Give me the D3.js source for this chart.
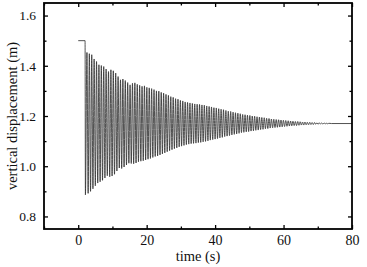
<!DOCTYPE html>
<html>
<head>
<meta charset="utf-8">
<script src="https://cdn.jsdelivr.net/npm/d3@7"></script>
<style>
  body { margin: 0; background: #fff; }
  svg { display: block; }
  text { font-family: "Liberation Serif", "Times New Roman", serif; fill: #111; }
</style>
</head>
<body>
<svg id="chart" width="367" height="267"></svg>
<script>
// values
var xTicks = [0, 20, 40, 60, 80],
    yTicks = [0.8, 1.0, 1.2, 1.4, 1.6];

// initial hold before release
var holdT = [0, 2.0],
    holdY = [1.5, 1.5];

// troughs and peaks of each oscillation cycle
var troughT = [2.1, 2.9, 3.6, 4.3, 5.0, 5.7, 6.4, 7.1, 7.8, 8.5, 9.2, 9.9, 10.6, 11.3, 12.0, 12.7, 13.4, 14.1, 14.8, 15.5,
  16.2, 16.9, 17.6, 18.3, 19.0, 19.7, 20.4, 21.1, 21.8, 22.5, 23.2, 23.9, 24.6, 25.3, 26.0, 26.7, 27.4, 28.1, 28.8, 29.5,
  30.2, 30.9, 31.6, 32.3, 33.0, 33.7, 34.4, 35.1, 35.8, 36.5, 37.2, 37.9, 38.6, 39.3, 40.0, 40.7, 41.4, 42.1, 42.8, 43.5,
  44.2, 44.9, 45.6, 46.3, 47.0, 47.7, 48.4, 49.1, 49.8, 50.5, 51.2, 51.9, 52.6, 53.3, 54.0, 54.7, 55.4, 56.1, 56.8, 57.5,
  58.2, 58.9, 59.6, 60.3, 61.0, 61.7, 62.4, 63.1, 63.8, 64.5, 65.2, 65.9, 66.6, 67.3, 68.0, 68.7, 69.4, 70.1, 70.8, 71.5,
  72.2, 72.9];
var troughY = [0.886, 0.892, 0.900, 0.910, 0.922, 0.933, 0.938, 0.944, 0.953, 0.962, 0.958, 0.961, 0.968, 0.981, 0.993, 0.991, 0.997, 1.005, 1.012, 1.011,
  1.010, 1.013, 1.018, 1.020, 1.022, 1.025, 1.028, 1.031, 1.035, 1.039, 1.041, 1.045, 1.049, 1.053, 1.058, 1.062, 1.066, 1.070, 1.073, 1.077,
  1.080, 1.083, 1.086, 1.088, 1.090, 1.091, 1.092, 1.094, 1.095, 1.097, 1.099, 1.101, 1.104, 1.106, 1.108, 1.110, 1.113, 1.115, 1.118, 1.120,
  1.122, 1.125, 1.127, 1.129, 1.131, 1.134, 1.135, 1.137, 1.138, 1.140, 1.141, 1.143, 1.144, 1.146, 1.147, 1.149, 1.150, 1.152, 1.153, 1.154,
  1.155, 1.156, 1.157, 1.158, 1.159, 1.160, 1.161, 1.162, 1.162, 1.163, 1.164, 1.164, 1.165, 1.165, 1.166, 1.166, 1.167, 1.167, 1.168, 1.168,
  1.169, 1.169];
var peakT = [2.55, 3.25, 3.95, 4.65, 5.35, 6.05, 6.75, 7.45, 8.15, 8.85, 9.55, 10.25, 10.95, 11.65, 12.35, 13.05, 13.75, 14.45, 15.15, 15.85,
  16.55, 17.25, 17.95, 18.65, 19.35, 20.05, 20.75, 21.45, 22.15, 22.85, 23.55, 24.25, 24.95, 25.65, 26.35, 27.05, 27.75, 28.45, 29.15, 29.85,
  30.55, 31.25, 31.95, 32.65, 33.35, 34.05, 34.75, 35.45, 36.15, 36.85, 37.55, 38.25, 38.95, 39.65, 40.35, 41.05, 41.75, 42.45, 43.15, 43.85,
  44.55, 45.25, 45.95, 46.65, 47.35, 48.05, 48.75, 49.45, 50.15, 50.85, 51.55, 52.25, 52.95, 53.65, 54.35, 55.05, 55.75, 56.45, 57.15, 57.85,
  58.55, 59.25, 59.95, 60.65, 61.35, 62.05, 62.75, 63.45, 64.15, 64.85, 65.55, 66.25, 66.95, 67.65, 68.35, 69.05, 69.75, 70.45, 71.15, 71.85,
  72.55, 73.25];
var peakY = [1.453, 1.448, 1.444, 1.427, 1.417, 1.404, 1.401, 1.397, 1.387, 1.377, 1.384, 1.380, 1.371, 1.357, 1.344, 1.347, 1.341, 1.333, 1.324, 1.330,
  1.332, 1.326, 1.322, 1.318, 1.320, 1.314, 1.312, 1.309, 1.305, 1.300, 1.299, 1.294, 1.291, 1.286, 1.282, 1.277, 1.274, 1.269, 1.267, 1.262,
  1.260, 1.256, 1.254, 1.252, 1.250, 1.248, 1.247, 1.246, 1.244, 1.243, 1.240, 1.238, 1.236, 1.233, 1.232, 1.229, 1.227, 1.225, 1.222, 1.219,
  1.218, 1.215, 1.213, 1.211, 1.209, 1.206, 1.205, 1.203, 1.202, 1.200, 1.199, 1.197, 1.196, 1.194, 1.193, 1.191, 1.190, 1.188, 1.187, 1.186,
  1.185, 1.184, 1.183, 1.182, 1.181, 1.180, 1.179, 1.178, 1.178, 1.177, 1.176, 1.176, 1.175, 1.175, 1.174, 1.174, 1.173, 1.173, 1.172, 1.172,
  1.171, 1.171];

// settled tail
var restT = [74.0, 80.0],
    restY = [1.17, 1.17];

var svg = d3.select("#chart"),
    margin = {left: 44, top: 3, right: 15, bottom: 38},
    W = +svg.attr("width"), H = +svg.attr("height"),
    x = d3.scaleLinear().domain([-10, 80]).range([margin.left, W - margin.right]),
    y = d3.scaleLinear().domain([0.75, 1.65]).range([H - margin.bottom, margin.top]);

// put all points in time order
var pts = [];
holdT.forEach(function (t, i) { pts.push([t, holdY[i]]); });
troughT.forEach(function (t, i) {
    pts.push([t, troughY[i]]);
    pts.push([peakT[i], peakY[i]]);
});
restT.forEach(function (t, i) { pts.push([t, restY[i]]); });

var line = d3.line()
    .x(function (d) { return x(d[0]); })
    .y(function (d) { return y(d[1]); })
    .curve(d3.curveMonotoneX);

svg.append("path")
    .datum(pts)
    .attr("fill", "none")
    .attr("stroke", "#333")
    .attr("stroke-width", 0.85)
    .attr("d", line);

// axes, ticks pointing inward on all four sides
var x0 = margin.left, x1 = W - margin.right, y0 = H - margin.bottom, y1 = margin.top;
var xMinor = [-10, 10, 30, 50, 70], yMinor = [0.9, 1.1, 1.3, 1.5];

function tickStyle(g) {
    g.select(".domain").remove();
    g.selectAll("line").attr("stroke", "#000").attr("stroke-width", 1.3);
    g.selectAll("text").attr("fill", "#111");
}

svg.append("g").attr("transform", "translate(0," + y0 + ")")
    .call(d3.axisBottom(x).tickValues(xTicks).tickSize(-4).tickPadding(6).tickFormat(d3.format("d")))
    .call(tickStyle)
    .selectAll("text").attr("font-size", "14px");
svg.append("g").attr("transform", "translate(0," + y0 + ")")
    .call(d3.axisBottom(x).tickValues(xMinor).tickSize(-2.5).tickFormat(""))
    .call(tickStyle);
svg.append("g").attr("transform", "translate(0," + y1 + ")")
    .call(d3.axisTop(x).tickValues(xTicks).tickSize(-4).tickFormat(""))
    .call(tickStyle);
svg.append("g").attr("transform", "translate(0," + y1 + ")")
    .call(d3.axisTop(x).tickValues(xMinor).tickSize(-2.5).tickFormat(""))
    .call(tickStyle);

svg.append("g").attr("transform", "translate(" + x0 + ",0)")
    .call(d3.axisLeft(y).tickValues(yTicks).tickSize(-4).tickPadding(8).tickFormat(d3.format(".1f")))
    .call(tickStyle)
    .selectAll("text").attr("font-size", "13.5px");
svg.append("g").attr("transform", "translate(" + x0 + ",0)")
    .call(d3.axisLeft(y).tickValues(yMinor).tickSize(-2.5).tickFormat(""))
    .call(tickStyle);
svg.append("g").attr("transform", "translate(" + x1 + ",0)")
    .call(d3.axisRight(y).tickValues(yTicks).tickSize(-4).tickFormat(""))
    .call(tickStyle);
svg.append("g").attr("transform", "translate(" + x1 + ",0)")
    .call(d3.axisRight(y).tickValues(yMinor).tickSize(-2.5).tickFormat(""))
    .call(tickStyle);

// frame
svg.append("rect")
    .attr("x", x0).attr("y", y1)
    .attr("width", x1 - x0).attr("height", y0 - y1)
    .attr("fill", "none").attr("stroke", "#000").attr("stroke-width", 1.8);

// axis titles
svg.append("text")
    .attr("x", (x0 + x1) / 2).attr("y", 260.5)
    .attr("text-anchor", "middle").attr("font-size", "14.5px")
    .text("time (s)");
svg.append("text")
    .attr("transform", "translate(17," + ((y0 + y1) / 2) + ") rotate(-90)")
    .attr("text-anchor", "middle").attr("font-size", "14.5px")
    .text("vertical displacement (m)");
</script>
</body>
</html>
